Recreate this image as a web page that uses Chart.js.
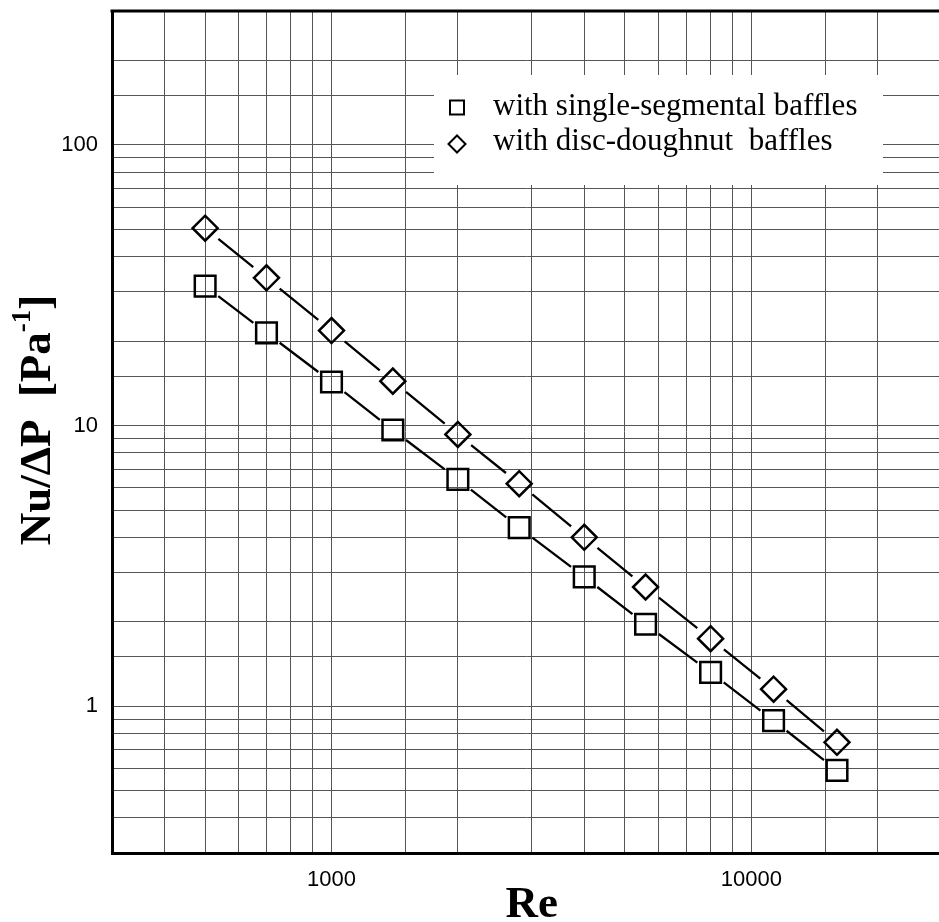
<!DOCTYPE html>
<html>
<head>
<meta charset="utf-8">
<title>Nu/ΔP vs Re</title>
<script src="https://cdn.jsdelivr.net/npm/chart.js@4.4.1/dist/chart.umd.min.js"></script>
<style>
  html, body { margin: 0; padding: 0; background: #fff; }
</style>
</head>
<body>
<canvas id="nuChart" width="939" height="922"></canvas>
<script>
// Re 數值 (x 軸)
const reValues = [500, 700, 1000, 1400, 2000, 2800, 4000, 5600, 8000, 11300, 16000];
// Nu/ΔP [Pa^-1]
const singleSegmental = [31.4, 21.4, 14.3, 9.64, 6.43, 4.33, 2.89, 1.96, 1.32, 0.889, 0.591];
const discDoughnut = [50.5, 33.6, 21.8, 14.4, 9.30, 6.21, 4.00, 2.66, 1.74, 1.15, 0.744];
// 軸刻度標籤
const xTickLabels = [1000, 10000];
const yTickLabels = [1, 10, 100];
const seriesNames = ["with single-segmental baffles", "with disc-doughnut  baffles"];

const serif = "'Liberation Serif', 'Times New Roman', serif";
const sans = "'Liberation Sans', Arial, sans-serif";

// 連線：線段在標記附近留空隙
const gapLines = {
  id: "gapLines",
  beforeDatasetsDraw(chart) {
    const ctx = chart.ctx;
    chart.data.datasets.forEach((ds, i) => {
      const pts = chart.getDatasetMeta(i).data;
      const gap = ds.lineGap;
      ctx.save();
      ctx.strokeStyle = "#000";
      ctx.lineWidth = 2.3;
      ctx.beginPath();
      for (let k = 0; k < pts.length - 1; k++) {
        const a = pts[k], b = pts[k + 1];
        const dx = b.x - a.x, dy = b.y - a.y;
        const len = Math.hypot(dx, dy);
        const ux = dx / len, uy = dy / len;
        ctx.moveTo(a.x + ux * gap, a.y + uy * gap);
        ctx.lineTo(b.x - ux * gap, b.y - uy * gap);
      }
      ctx.stroke();
      ctx.restore();
    });
  }
};

// 外框、圖例、軸標題
const frame = {
  id: "frame",
  afterDraw(chart) {
    const ctx = chart.ctx;
    const area = chart.chartArea;
    ctx.save();

    // 上框線
    ctx.strokeStyle = "#000";
    ctx.lineWidth = 3;
    ctx.beginPath();
    ctx.moveTo(area.left - 1.5, area.top);
    ctx.lineTo(area.right, area.top);
    ctx.stroke();

    // 圖例
    const bx = area.left + 322, by = area.top + 64;
    ctx.fillStyle = "#fff";
    ctx.fillRect(bx, by, 449, 110);
    ctx.strokeStyle = "#000";
    ctx.lineWidth = 2;
    const mx = bx + 23;
    ctx.strokeRect(mx - 7, by + 25.5, 14, 14);
    ctx.beginPath();
    ctx.moveTo(mx - 8.5, by + 69);
    ctx.lineTo(mx, by + 60.5);
    ctx.lineTo(mx + 8.5, by + 69);
    ctx.lineTo(mx, by + 77.5);
    ctx.closePath();
    ctx.stroke();
    ctx.fillStyle = "#000";
    ctx.font = "31px " + serif;
    ctx.textBaseline = "alphabetic";
    ctx.textAlign = "left";
    ctx.fillText(seriesNames[0], bx + 59, by + 40);
    ctx.fillText(seriesNames[1], bx + 59, by + 75);

    // x 軸標題
    const xs = chart.scales.x;
    ctx.font = "bold 45px " + serif;
    ctx.textAlign = "center";
    ctx.fillText("Re", (area.left + xs.getPixelForValue(30000)) / 2, 917);

    // y 軸標題 (旋轉)
    ctx.translate(50, area.top + 409);
    ctx.rotate(-Math.PI / 2);
    ctx.textAlign = "left";
    const main = "Nu/\u0394P  [Pa";
    const sup = "-1";
    const end = "]";
    ctx.font = "bold 45px " + serif;
    const w1 = ctx.measureText(main).width;
    const w3 = ctx.measureText(end).width;
    ctx.font = "bold 27px " + serif;
    const w2 = ctx.measureText(sup).width;
    const x0 = -(w1 + w2 + w3) / 2;
    ctx.font = "bold 45px " + serif;
    ctx.fillText(main, x0, 0);
    ctx.font = "bold 27px " + serif;
    ctx.fillText(sup, x0 + w1, -20);
    ctx.font = "bold 45px " + serif;
    ctx.fillText(end, x0 + w1 + w2, 0);

    ctx.restore();
  }
};

function sameValue(list, v) {
  return list.some(t => Math.abs(t - v) < 1e-9 * t);
}

const ctx = document.getElementById("nuChart").getContext("2d");
new Chart(ctx, {
  type: "scatter",
  data: {
    datasets: [
      {
        label: seriesNames[0],
        data: reValues.map((x, i) => ({ x: x, y: singleSegmental[i] })),
        pointStyle: "rect",
        pointRadius: 14.6,
        pointHoverRadius: 14.6,
        pointBorderWidth: 2.5,
        pointBorderColor: "#000",
        pointBackgroundColor: "rgba(0,0,0,0)",
        lineGap: 16.5,
      },
      {
        label: seriesNames[1],
        data: reValues.map((x, i) => ({ x: x, y: discDoughnut[i] })),
        pointStyle: "rectRot",
        pointRadius: 12.5,
        pointHoverRadius: 12.5,
        pointBorderWidth: 2.5,
        pointBorderColor: "#000",
        pointBackgroundColor: "rgba(0,0,0,0)",
        lineGap: 17,
      },
    ],
  },
  options: {
    responsive: false,
    animation: false,
    devicePixelRatio: 1,
    layout: { autoPadding: false, padding: { top: 11, left: 0, right: 0, bottom: 0 } },
    plugins: {
      legend: { display: false },
      tooltip: { enabled: false },
    },
    scales: {
      x: {
        type: "logarithmic",
        min: 300,
        max: 28000,
        grid: { color: "#555", lineWidth: 1, drawTicks: false },
        border: { display: true, color: "#000", width: 3 },
        ticks: {
          autoSkip: false,
          maxRotation: 0,
          padding: 14,
          color: "#000",
          font: { family: sans, size: 22 },
          callback: (v) => (sameValue(xTickLabels, v) ? String(v) : ""),
        },
        afterFit: (s) => {
          s.height = 69;
          s.paddingLeft = 0;
          s.paddingRight = 0;
        },
      },
      y: {
        type: "logarithmic",
        min: 0.3,
        max: 300,
        grid: { color: "#555", lineWidth: 1, drawTicks: false },
        border: { display: true, color: "#000", width: 3 },
        ticks: {
          autoSkip: false,
          padding: 14,
          color: "#000",
          font: { family: sans, size: 22 },
          callback: (v) => (sameValue(yTickLabels, v) ? String(v) : ""),
        },
        afterFit: (s) => {
          s.width = 112;
          s.paddingTop = 0;
          s.paddingBottom = 0;
        },
      },
    },
  },
  plugins: [gapLines, frame],
});
</script>
</body>
</html>
